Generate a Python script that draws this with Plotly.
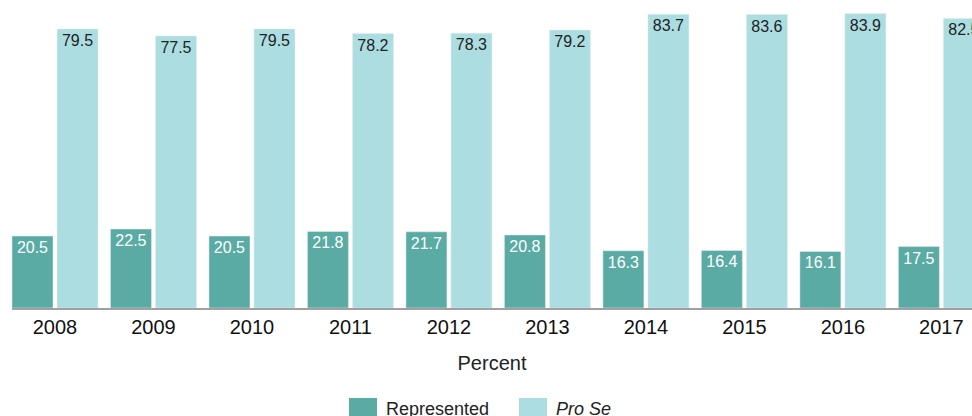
import plotly.graph_objects as go

years = ["2008", "2009", "2010", "2011", "2012", "2013", "2014", "2015", "2016", "2017"]
represented = [20.5, 22.5, 20.5, 21.8, 21.7, 20.8, 16.3, 16.4, 16.1, 17.5]
pro_se = [79.5, 77.5, 79.5, 78.2, 78.3, 79.2, 83.7, 83.6, 83.9, 82.5]

C_REP = "#5BABA5"
C_PRO = "#ACDDE1"
FONT = "Liberation Sans, Arial, sans-serif"

W, H = 972, 416
ML, MR, MT, MB = 12, 0, 0, 108
PW, PH = W - ML - MR, H - MT - MB

fig = go.Figure()
fig.add_trace(go.Bar(
    x=years, y=represented, name="Represented", marker_color=C_REP,
    text=[f"{v:.1f}" for v in represented], textposition="inside",
    insidetextanchor="end", textangle=0,
    insidetextfont=dict(color="white", size=16, family=FONT),
    showlegend=False, hoverinfo="x+y",
))
fig.add_trace(go.Bar(
    x=years, y=pro_se, name="<i>Pro Se</i>", marker_color=C_PRO,
    text=[f"{v:.1f}" for v in pro_se], textposition="inside",
    insidetextanchor="end", textangle=0,
    insidetextfont=dict(color="#222222", size=16, family=FONT),
    showlegend=False, hoverinfo="x+y",
))

def px_x(p):
    return (p - ML) / PW

def px_y(p):
    return (MT + PH - p) / PH

shapes = []
annotations = []
for x0, label, color in [(349, "Represented", C_REP), (519, "<i>Pro Se</i>", C_PRO)]:
    shapes.append(dict(type="rect", xref="paper", yref="paper",
                       x0=px_x(x0), x1=px_x(x0 + 28), y0=px_y(398), y1=px_y(420),
                       fillcolor=color, line=dict(width=0), layer="above"))
    annotations.append(dict(xref="paper", yref="paper", x=px_x(x0 + 35), y=px_y(409),
                            xanchor="left", yanchor="middle", showarrow=False,
                            text=label, font=dict(size=18, color="#222222", family=FONT)))

fig.update_layout(
    width=W, height=H,
    margin=dict(l=ML, r=MR, t=MT, b=MB, pad=0),
    barmode="group", bargap=0.086, bargroupgap=0.089,
    plot_bgcolor="white", paper_bgcolor="white",
    font=dict(family=FONT, color="#222222"),
    xaxis=dict(type="category", range=[-0.4366, 9.311],
               showline=True, linecolor="#A0A0A0", linewidth=2,
               ticks="", showgrid=False, zeroline=False,
               tickfont=dict(size=20, color="#111111"),
               title=dict(text="Percent", font=dict(size=20, color="#222222"), standoff=19)),
    yaxis=dict(range=[0, PH / 3.51], visible=False, showgrid=False, zeroline=False),
    shapes=shapes, annotations=annotations,
    showlegend=False,
)

fig.write_html(
    "out.html",
    config={"displayModeBar": False},
    post_script="document.body.style.margin='0';document.body.style.overflow='hidden';",
)
